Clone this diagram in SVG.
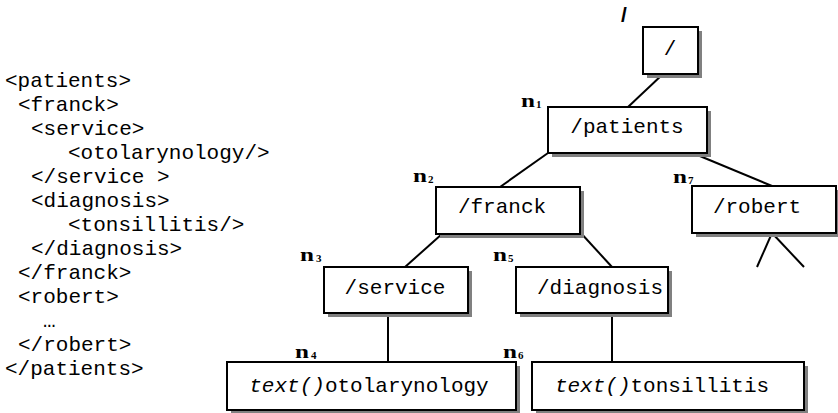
<svg xmlns="http://www.w3.org/2000/svg" width="838" height="413" viewBox="0 0 838 413">
<style>
.code{font-family:"Liberation Mono",monospace;font-size:21px;fill:#000}
.lbl{font-family:"Liberation Mono",monospace;font-size:21px;fill:#000;text-anchor:middle}
.it{font-style:italic}
.box{fill:#fff;stroke:#000;stroke-width:2}
.sh{fill:#808080}
.n{font-family:"Liberation Serif",serif;font-weight:bold;font-size:19px;fill:#000}
.sub{font-family:"Liberation Serif",serif;font-weight:bold;font-size:11px;fill:#000}
.edge{stroke:#000;stroke-width:2;fill:none}
</style>
<rect width="838" height="413" fill="#fff"/>
<g id="xml">
<text class="code" x="5" y="87">&lt;patients&gt;</text>
<text class="code" x="18" y="111">&lt;franck&gt;</text>
<text class="code" x="31" y="135">&lt;service&gt;</text>
<text class="code" x="68" y="159">&lt;otolarynology/&gt;</text>
<text class="code" x="31" y="183">&lt;/service &gt;</text>
<text class="code" x="31" y="207">&lt;diagnosis&gt;</text>
<text class="code" x="68" y="231">&lt;tonsillitis/&gt;</text>
<text class="code" x="31" y="255">&lt;/diagnosis&gt;</text>
<text class="code" x="18" y="279">&lt;/franck&gt;</text>
<text class="code" x="18" y="303">&lt;robert&gt;</text>
<text class="code" x="43" y="327">…</text>
<text class="code" x="18" y="351">&lt;/robert&gt;</text>
<text class="code" x="5" y="375">&lt;/patients&gt;</text>
</g>
<g id="connectors">
<line class="edge" x1="663" y1="74" x2="628" y2="107"/>
<line class="edge" x1="548" y1="153" x2="500" y2="187"/>
<line class="edge" x1="695" y1="154" x2="772" y2="186"/>
<line class="edge" x1="442" y1="234" x2="405" y2="267"/>
<line class="edge" x1="579" y1="231" x2="612" y2="267"/>
<line class="edge" x1="388" y1="313" x2="388" y2="362"/>
<line class="edge" x1="612" y1="313" x2="612" y2="362"/>
<line class="edge" x1="772" y1="233" x2="757" y2="267"/>
<line class="edge" x1="772" y1="233" x2="804" y2="267"/>
</g>
<g id="root">
<text x="621" y="22" style="font-family:'Liberation Sans',sans-serif;font-weight:bold;font-size:21px">/</text>
<rect class="sh" x="647" y="31" width="55" height="47"/>
<rect class="box" x="643" y="27" width="55" height="47"/>
<text class="lbl" x="670" y="55">/</text>
</g>
<g id="n1">
<rect class="sh" x="552" y="111" width="159" height="46"/>
<rect class="box" x="548" y="107" width="159" height="46"/>
<text class="lbl" x="627" y="133">/patients</text>
<text class="n" x="521" y="107" textLength="14" lengthAdjust="spacingAndGlyphs">n</text>
<text class="sub" x="536" y="108">1</text>
</g>
<g id="n2">
<rect class="sh" x="440" y="191" width="144" height="47"/>
<rect class="box" x="436" y="187" width="144" height="47"/>
<text class="lbl" x="502" y="213">/franck</text>
<text class="n" x="413" y="182" textLength="14" lengthAdjust="spacingAndGlyphs">n</text>
<text class="sub" x="428" y="183">2</text>
</g>
<g id="n7">
<rect class="sh" x="696" y="190" width="144" height="47"/>
<rect class="box" x="692" y="186" width="144" height="47"/>
<text class="lbl" x="757" y="213">/robert</text>
<text class="n" x="673" y="183" textLength="14" lengthAdjust="spacingAndGlyphs">n</text>
<text class="sub" x="688" y="184">7</text>
</g>
<g id="n3">
<rect class="sh" x="328" y="271" width="144" height="46"/>
<rect class="box" x="324" y="267" width="144" height="46"/>
<text class="lbl" x="395" y="294">/service</text>
<text class="n" x="300" y="261" textLength="14" lengthAdjust="spacingAndGlyphs">n</text>
<text class="sub" x="316" y="262">3</text>
</g>
<g id="n5">
<rect class="sh" x="520" y="271" width="152" height="46"/>
<rect class="box" x="516" y="267" width="152" height="46"/>
<text class="lbl" x="600" y="294">/diagnosis</text>
<text class="n" x="493" y="261" textLength="14" lengthAdjust="spacingAndGlyphs">n</text>
<text class="sub" x="508" y="262">5</text>
</g>
<g id="n4">
<rect class="sh" x="231" y="366" width="289" height="48"/>
<rect class="box" x="227" y="362" width="289" height="48"/>
<text class="lbl" x="369" y="392"><tspan class="it">text()</tspan>otolarynology</text>
<text class="n" x="295" y="358" textLength="14" lengthAdjust="spacingAndGlyphs">n</text>
<text class="sub" x="311" y="359">4</text>
</g>
<g id="n6">
<rect class="sh" x="536" y="366" width="272" height="48"/>
<rect class="box" x="532" y="362" width="272" height="48"/>
<text class="lbl" x="662" y="392"><tspan class="it">text()</tspan>tonsillitis</text>
<text class="n" x="503" y="358" textLength="14" lengthAdjust="spacingAndGlyphs">n</text>
<text class="sub" x="518" y="359">6</text>
</g>
</svg>
